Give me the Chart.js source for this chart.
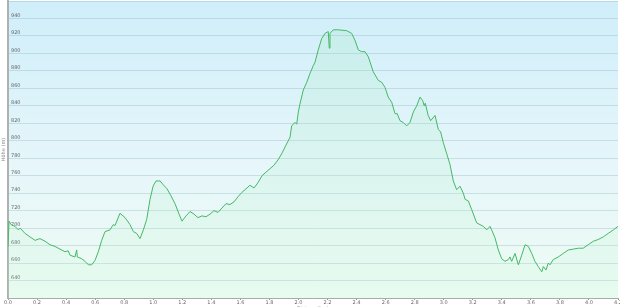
<!DOCTYPE html>
<html>
<head>
<meta charset="utf-8">
<script src="https://cdn.jsdelivr.net/npm/chart.js@4.4.1/dist/chart.umd.min.js"></script>
<style>
  html, body { margin: 0; padding: 0; background: #fff; overflow: hidden; }
  #wrap { width: 620px; height: 307px; overflow: hidden; }
</style>
</head>
<body>
<div id="wrap"><canvas id="profile" width="620" height="313"></canvas></div>
<script>
// elevation profile - distance (km) vs height (m)
const distanceKm = [
  0.000, 0.007, 0.021, 0.048, 0.071, 0.083, 0.117, 0.151, 0.186, 0.220,
  0.255, 0.289, 0.324, 0.358, 0.392, 0.415, 0.427, 0.461, 0.473, 0.477,
  0.507, 0.530, 0.553, 0.576, 0.599, 0.622, 0.645, 0.668, 0.702, 0.725,
  0.737, 0.771, 0.806, 0.840, 0.863, 0.886, 0.909, 0.932, 0.955, 0.978,
  0.999, 1.019, 1.047, 1.067, 1.095, 1.122, 1.150, 1.178, 1.198, 1.226,
  1.253, 1.281, 1.308, 1.336, 1.363, 1.391, 1.418, 1.446, 1.473, 1.501,
  1.528, 1.556, 1.584, 1.611, 1.639, 1.666, 1.694, 1.721, 1.749, 1.776,
  1.804, 1.831, 1.859, 1.887, 1.914, 1.942, 1.953, 1.976, 1.988, 1.999,
  2.010, 2.033, 2.057, 2.079, 2.102, 2.114, 2.136, 2.160, 2.183, 2.205,
  2.212, 2.217, 2.240, 2.274, 2.332, 2.366, 2.389, 2.412, 2.435, 2.458,
  2.481, 2.515, 2.550, 2.573, 2.596, 2.618, 2.642, 2.665, 2.680, 2.699,
  2.721, 2.745, 2.768, 2.791, 2.814, 2.837, 2.855, 2.866, 2.873, 2.893,
  2.910, 2.940, 2.963, 2.979, 2.997, 3.021, 3.043, 3.066, 3.089, 3.112,
  3.135, 3.147, 3.170, 3.193, 3.227, 3.250, 3.273, 3.296, 3.319, 3.330,
  3.353, 3.376, 3.399, 3.422, 3.445, 3.456, 3.468, 3.491, 3.514, 3.537,
  3.560, 3.583, 3.606, 3.628, 3.651, 3.675, 3.686, 3.704, 3.720, 3.732,
  3.754, 3.789, 3.823, 3.858, 3.892, 3.927, 3.960, 3.995, 4.030, 4.064,
  4.099, 4.133, 4.168, 4.200
];
const heightM = [
  679, 708, 704, 702, 698, 700, 694, 690, 686, 688,
  685, 681, 679, 676, 673, 674, 669, 667, 675, 667,
  665, 662, 658, 658, 663, 673, 686, 696, 698, 704,
  703, 717, 712, 704, 696, 694, 688, 698, 710, 733,
  748, 754, 754, 750, 745, 737, 728, 716, 708, 714,
  719, 716, 712, 714, 713, 716, 720, 718, 723, 728,
  727, 730, 736, 741, 745, 749, 746, 752, 760, 764,
  768, 772, 778, 786, 795, 804, 817, 821, 819, 833,
  842, 858, 867, 877, 886, 890, 904, 917, 923, 925,
  906, 923, 927, 927, 926, 923, 915, 904, 902, 902,
  896, 879, 869, 867, 861, 850, 844, 831, 831, 823,
  821, 817, 821, 833, 840, 850, 846, 840, 843, 829,
  823, 829, 813, 810, 798, 785, 773, 754, 744, 748,
  740, 733, 731, 721, 706, 704, 702, 698, 702, 698,
  689, 675, 665, 662, 664, 667, 662, 671, 658, 669,
  681, 679, 671, 662, 656, 650, 656, 652, 660, 658,
  664, 667, 671, 675, 676, 677, 677, 681, 685, 687,
  690, 694, 698, 702
];
const yTicksShown = [640, 660, 680, 700, 720, 740, 760, 780, 800, 820, 840, 860, 880, 900, 920, 940];

const points = distanceKm.map((d, i) => ({ x: d, y: heightM[i] }));

// sky-like gradient behind the plot area
const plotBackground = {
  id: 'plotBackground',
  beforeDraw(chart) {
    const { ctx, chartArea: a } = chart;
    if (!a) return;
    const g = ctx.createLinearGradient(0, a.top, 0, a.bottom);
    g.addColorStop(0, '#cfeefa');
    g.addColorStop(0.55, '#e6f6fa');
    g.addColorStop(1, '#eefcf3');
    ctx.save();
    ctx.fillStyle = g;
    ctx.fillRect(a.left, a.top, a.right - a.left, a.bottom - a.top);
    ctx.restore();
  }
};

const ctx = document.getElementById('profile').getContext('2d');
new Chart(ctx, {
  type: 'line',
  data: {
    datasets: [{
      label: 'Höhe',
      data: points,
      borderColor: '#45b866',
      borderWidth: 1,
      pointRadius: 0,
      tension: 0,
      fill: 'start',
      backgroundColor: (c) => {
        const a = c.chart.chartArea;
        if (!a) return 'rgba(140,225,170,0.15)';
        const g = c.chart.ctx.createLinearGradient(0, a.top, 0, a.bottom);
        g.addColorStop(0, 'rgba(150,230,175,0.20)');
        g.addColorStop(1, 'rgba(190,245,210,0.15)');
        return g;
      }
    }]
  },
  options: {
    responsive: false,
    devicePixelRatio: 1,
    animation: false,
    layout: { padding: { top: 1, right: 2, left: 0, bottom: 0 } },
    plugins: { legend: { display: false }, tooltip: { enabled: false } },
    scales: {
      x: {
        type: 'linear',
        min: 0,
        max: 4.2,
        afterFit: (s) => { s.paddingRight = 0; s.paddingLeft = 0; s.height = 15; },
        ticks: {
          stepSize: 0.2,
          maxRotation: 0,
          autoSkip: false,
          color: '#666',
          font: { family: 'DejaVu Sans', size: 5 },
          padding: 0,
          callback: (v) => v.toFixed(1)
        },
        grid: { drawOnChartArea: false, drawTicks: true, tickLength: 2, color: '#999' },
        border: { color: '#aaa', width: 1 },
        title: { display: true, text: 'Distanz (km)', color: '#888', font: { family: 'DejaVu Sans', size: 5 }, padding: 1 }
      },
      y: {
        min: 620,
        max: 960,
        afterFit: (s) => { s.paddingTop = 0; s.paddingBottom = 0; s.width = 8; },
        ticks: {
          stepSize: 20,
          mirror: true,
          padding: 3,
          labelOffset: -3,
          color: '#666',
          font: { family: 'DejaVu Sans', size: 5 },
          callback: (v) => yTicksShown.includes(v) ? String(v) : ''
        },
        grid: { color: 'rgba(120,160,175,0.28)', drawTicks: false },
        border: { color: '#b0b0b0', width: 2 },
        title: { display: true, text: 'Höhe (m)', color: '#888', font: { family: 'DejaVu Sans', size: 5 }, padding: 1 }
      }
    }
  },
  plugins: [plotBackground]
});
</script>
</body>
</html>
